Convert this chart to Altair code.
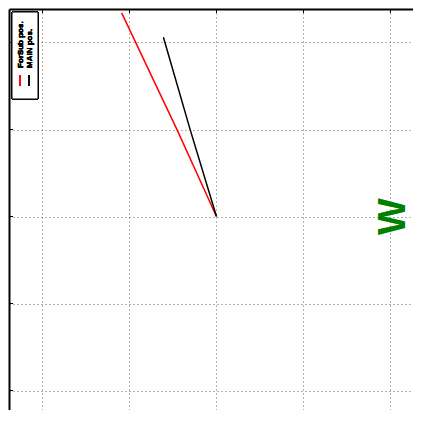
import altair as alt
import pandas as pd

# ---- data ----
tick_values = [-2, -1, 0, 1, 2]
series_names = ["ForSub pos.", "MAIN pos."]
series_colors = ["#ff0000", "#000000"]
forsub_x = [0.0, -0.45, -1.09]
forsub_y = [0.0, 0.99, 2.34]
main_x = [0.0, -0.30, -0.61]
main_y = [0.0, 0.99, 2.06]
marker_text = ["W"]
marker_x = [2.03]
marker_y = [0.0]

rows = []
for name, xs, ys in [(series_names[0], forsub_x, forsub_y), (series_names[1], main_x, main_y)]:
    for i, (a, b) in enumerate(zip(xs, ys)):
        rows.append({"series": name, "x": a, "y": b, "order": i})
lines_df = pd.DataFrame(rows)
ticks_df = pd.DataFrame({"t": tick_values})
marker_df = pd.DataFrame({"x": marker_x, "y": marker_y, "t": marker_text})

xscale = alt.Scale(domain=[-2.385, 2.259], nice=False, zero=False)
yscale = alt.Scale(domain=[-2.224, 2.385], nice=False, zero=False)

grid_kw = dict(values=tick_values, labels=False, ticks=False, domain=True,
               domainColor="black", domainWidth=2, grid=True, gridDash=[1, 3],
               gridColor="#666", gridWidth=1, title=None)
xaxis = alt.Axis(orient="top", **grid_kw)
yaxis = alt.Axis(orient="left", **grid_kw)

lines = alt.Chart(lines_df).mark_line(strokeWidth=1.5).encode(
    x=alt.X("x:Q", scale=xscale, axis=xaxis),
    y=alt.Y("y:Q", scale=yscale, axis=yaxis),
    color=alt.Color("series:N", scale=alt.Scale(domain=series_names, range=series_colors), legend=None),
    order="order:Q",
)

top_ticks = alt.Chart(ticks_df).mark_rule(color="black", strokeWidth=1).encode(
    x=alt.X("t:Q", scale=xscale, axis=xaxis),
    y=alt.value(0), y2=alt.value(4),
)
left_ticks = alt.Chart(ticks_df).mark_rule(color="black", strokeWidth=1).encode(
    y=alt.Y("t:Q", scale=yscale, axis=yaxis),
    x=alt.value(0), x2=alt.value(4),
)

marker = alt.Chart(marker_df).mark_text(
    angle=270, align="center", baseline="middle", fontSize=39, fontWeight="bold",
    font="Liberation Sans", color="#008000",
).encode(
    x=alt.X("x:Q", scale=xscale, axis=xaxis),
    y=alt.Y("y:Q", scale=yscale, axis=yaxis),
    text="t:N",
)

legend_layers = [
    alt.Chart(ticks_df).mark_rect(fill="white", stroke="black", strokeWidth=1).encode(
        x=alt.value(3), x2=alt.value(29), y=alt.value(3), y2=alt.value(90)
    )
]
for i, (name, col) in enumerate(zip(series_names, series_colors)):
    cx = 12 + 9 * i
    legend_layers.append(
        alt.Chart(ticks_df).mark_text(
            angle=270, align="left", baseline="middle", fontSize=8, fontWeight="bold",
            font="Liberation Sans", color="black",
        ).encode(x=alt.value(cx), y=alt.value(59), text=alt.value(name))
    )
    legend_layers.append(
        alt.Chart(ticks_df).mark_rule(color=col, strokeWidth=1).encode(
            x=alt.value(cx - 1), y=alt.value(66), y2=alt.value(77)
        )
    )

chart = alt.layer(lines, top_ticks, left_ticks, marker, *legend_layers).properties(
    width=404, height=401,
    padding={"top": 1, "left": 1, "right": 0, "bottom": 0},
    autosize=alt.AutoSizeParams(type="none"),
).configure_view(stroke=None).configure(background="white")

chart.save("out.html", embed_options={"renderer": "svg", "actions": False})
